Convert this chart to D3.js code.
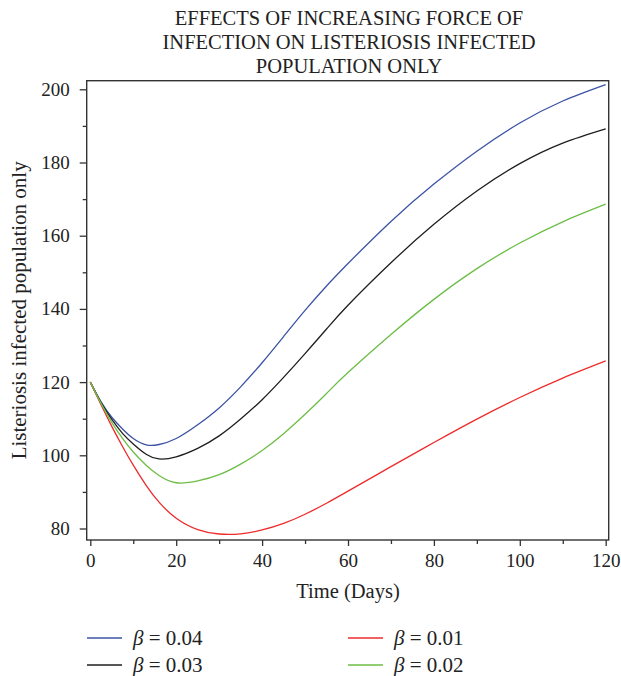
<!DOCTYPE html>
<html><head><meta charset="utf-8">
<script src="https://cdn.jsdelivr.net/npm/d3@7"></script>
<style>body{margin:0;background:#fff}svg{display:block}</style>
</head><body>
<svg id="chart" width="621" height="676"></svg>
<script>
const titleLines = ["EFFECTS OF INCREASING FORCE OF","INFECTION ON LISTERIOSIS INFECTED","POPULATION ONLY"];
const xLabel = "Time (Days)";
const yLabel = "Listeriosis infected population only";
const days = [0,2.5,5,7.5,10,13,16,20,25,30,35,40,45,50,55,60,70,80,90,100,110,120];
const beta004 = [120,114.6,110.4,107.2,104.6,102.85,102.95,104.6,108.35,112.95,118.7,125.3,132.45,139.6,146.25,152.4,163.9,174.1,183.1,190.8,196.8,201.3];
const beta003 = [120,114.4,109.8,106.0,103.1,100.3,99.0,99.6,101.9,105.3,109.9,115.2,121.3,127.8,134.5,141.0,152.6,163.1,172.2,179.7,185.3,189.2];
const beta002 = [120,114.2,109.0,104.6,100.9,97.3,94.5,92.5,93.0,94.7,97.6,101.3,105.9,111.2,116.9,122.6,133.0,142.6,151.0,158.0,163.8,168.6];
const beta001 = [120,113.8,107.9,102.4,97.3,91.8,87.2,82.8,79.7,78.5,78.55,79.6,81.4,83.9,86.9,90.2,96.9,103.5,109.9,115.8,121.1,125.8];
const seriesNames = ["0.04","0.03","0.01","0.02"];
const seriesColors = ["#3b53a4","#1e1e1e","#ee2b2b","#6cbd45"];
const xMajor = [0,20,40,60,80,100,120];
const xMinor = [10,30,50,70,90,110];
const yMajor = [80,100,120,140,160,180,200];
const yMinor = [90,110,130,150,170,190];

const series = [
  {name:seriesNames[0], values:beta004, color:seriesColors[0]},
  {name:seriesNames[1], values:beta003, color:seriesColors[1]},
  {name:seriesNames[2], values:beta001, color:seriesColors[2]},
  {name:seriesNames[3], values:beta002, color:seriesColors[3]}
];

const svg = d3.select("#chart");
const L = 86.7, R = 608.7, T = 80.7, B = 540;
const x = d3.scaleLinear().domain([-0.84,120.7]).range([L,R]);
const y = d3.scaleLinear().domain([76.86,202.35]).range([B,T]);
const font = "'Liberation Serif','Times New Roman',serif";
const axisColor = "#333";

// title
svg.append("g").selectAll("text").data(titleLines).join("text")
  .attr("x", 349).attr("y", (d,i)=>25+i*24)
  .attr("text-anchor","middle").attr("font-family",font).attr("font-size",20.5)
  .attr("fill","#222").text(d=>d);

// lines
const line = d3.line().x((d,i)=>x(days[i])).y(d=>y(d)).curve(d3.curveNatural);
svg.append("g").selectAll("path").data(series).join("path")
  .attr("d", d=>line(d.values)).attr("fill","none")
  .attr("stroke", d=>d.color).attr("stroke-width",1.3);

// frame
svg.append("rect").attr("x",L).attr("y",T).attr("width",R-L).attr("height",B-T)
  .attr("fill","none").attr("stroke",axisColor).attr("stroke-width",1.4);

// axes
function styleAxis(g){
  g.select(".domain").remove();
  g.selectAll(".tick line").attr("stroke",axisColor).attr("stroke-width",1.3);
  g.selectAll(".tick text").attr("font-family",font).attr("font-size",19).attr("fill","#222");
}
const xa = svg.append("g").attr("transform",`translate(0,${B})`)
  .call(d3.axisBottom(x).tickValues(xMajor).tickSize(6).tickPadding(8).tickFormat(d3.format("d")));
styleAxis(xa);
const xm = svg.append("g").attr("transform",`translate(0,${B})`)
  .call(d3.axisBottom(x).tickValues(xMinor).tickSize(4).tickFormat(""));
styleAxis(xm);
const ya = svg.append("g").attr("transform",`translate(${L},0)`)
  .call(d3.axisLeft(y).tickValues(yMajor).tickSize(7).tickPadding(10).tickFormat(d3.format("d")));
styleAxis(ya);
const ym = svg.append("g").attr("transform",`translate(${L},0)`)
  .call(d3.axisLeft(y).tickValues(yMinor).tickSize(4).tickFormat(""));
styleAxis(ym);

// axis labels
svg.append("text").attr("x",348).attr("y",598).attr("text-anchor","middle")
  .attr("font-family",font).attr("font-size",20.5).attr("fill","#222").text(xLabel);
svg.append("text").attr("transform",`translate(26,${(T+B)/2}) rotate(-90)`)
  .attr("text-anchor","middle").attr("font-family",font).attr("font-size",21)
  .attr("fill","#222").text(yLabel);

// legend
const legPos = [[87,638],[87,665],[348,638],[348,665]];
const leg = svg.append("g").selectAll("g").data(series).join("g")
  .attr("transform",(d,i)=>`translate(${legPos[i][0]},${legPos[i][1]})`);
leg.append("line").attr("x1",0).attr("x2",35).attr("y1",0).attr("y2",0)
  .attr("stroke",d=>d.color).attr("stroke-width",1.6);
const lt = leg.append("text").attr("x",46).attr("y",6.5)
  .attr("font-family",font).attr("font-size",21).attr("fill","#222");
lt.append("tspan").attr("font-style","italic").text("β");
lt.append("tspan").text(d=>" = "+d.name);
</script>
</body></html>
